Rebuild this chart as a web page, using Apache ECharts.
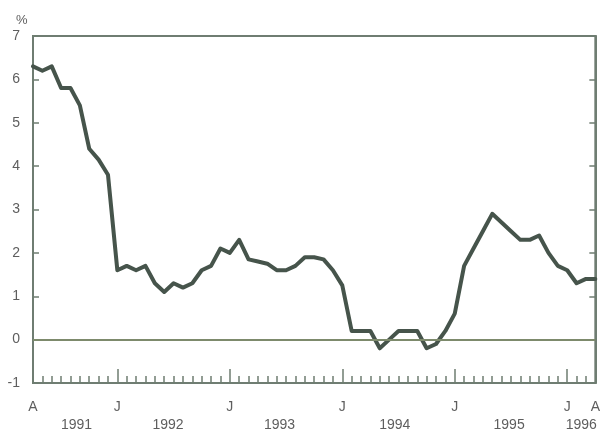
<!DOCTYPE html>
<html>
<head>
<meta charset="utf-8">
<script src="https://cdn.jsdelivr.net/npm/echarts@6/dist/echarts.min.js"></script>
<style>
html,body{margin:0;padding:0;background:#fff;}
#chart{width:603px;height:433px;}
</style>
</head>
<body>
<div id="chart"></div>
<script>
// Monthly series, April 1991 (index 0) to April 1996 (index 60)
const rateValues = [
  6.3, 6.2, 6.3, 5.8, 5.8, 5.4, 4.4, 4.15, 3.8,
  1.6, 1.7, 1.6, 1.7, 1.3, 1.1, 1.3, 1.2, 1.3, 1.6, 1.7, 2.1,
  2.0, 2.3, 1.85, 1.8, 1.75, 1.6, 1.6, 1.7, 1.9, 1.9, 1.85, 1.6,
  1.25, 0.2, 0.2, 0.2, -0.2, 0.0, 0.2, 0.2, 0.2, -0.2, -0.1, 0.2,
  0.6, 1.7, 2.1, 2.5, 2.9, 2.7, 2.5, 2.3, 2.3, 2.4, 2.0, 1.7,
  1.6, 1.3, 1.4, 1.4
];
const monthTickIdx = [0, 9, 21, 33, 45, 57, 60];
const monthTickText = ['A', 'J', 'J', 'J', 'J', 'J', 'A'];
const januaryIdx = [9, 21, 33, 45, 57];
const yearPos = [4.65, 14.4, 26.3, 38.6, 50.8, 58.5];
const yearText = ['1991', '1992', '1993', '1994', '1995', '1996'];
const yTicks = [-1, 0, 1, 2, 3, 4, 5, 6, 7];

const monthIndex = rateValues.map((v, i) => i);
const seriesData = rateValues.map((v, i) => [i, v]);

function nearestLabel(val, pos, text) {
  for (let i = 0; i < pos.length; i++) {
    if (Math.abs(pos[i] - val) < 0.01) return text[i];
  }
  return '';
}

const frame = '#6f7d72';
const labelColor = '#5e5e5e';
const font = 'Liberation Sans, Arial, Helvetica, sans-serif';

const chart = echarts.init(document.getElementById('chart'));
chart.setOption({
  animation: false,
  backgroundColor: '#fff',
  title: {
    text: '%', left: 11, top: 9,
    textStyle: { fontSize: 13, fontWeight: 'normal', color: labelColor, fontFamily: font }
  },
  grid: {
    left: 33, right: 6, top: 36, bottom: 50,
    show: true, borderColor: frame, borderWidth: 2, backgroundColor: 'transparent'
  },
  xAxis: [
    {
      type: 'value', min: 0, max: 60, position: 'bottom',
      axisLine: { show: true, onZero: false, lineStyle: { color: frame, width: 2 } },
      axisTick: { show: true, inside: true, length: 7, customValues: monthIndex,
        lineStyle: { color: frame, width: 1.5 } },
      axisLabel: { show: true, customValues: monthTickIdx, margin: 17,
        color: labelColor, fontSize: 14, fontFamily: font,
        formatter: v => nearestLabel(v, monthTickIdx, monthTickText) },
      splitLine: { show: false }
    },
    {
      type: 'value', min: 0, max: 60, position: 'bottom',
      axisLine: { show: false, onZero: false },
      axisTick: { show: true, inside: true, length: 14, customValues: januaryIdx,
        lineStyle: { color: frame, width: 1.5 } },
      axisLabel: { show: true, customValues: yearPos, margin: 35,
        color: labelColor, fontSize: 14, fontFamily: font,
        formatter: v => nearestLabel(v, yearPos, yearText) },
      splitLine: { show: false }
    }
  ],
  yAxis: [
    {
      type: 'value', min: -1, max: 7, interval: 1, position: 'left',
      axisLine: { show: true, onZero: false, lineStyle: { color: frame, width: 2 } },
      axisTick: { show: true, inside: true, length: 6, lineStyle: { color: frame, width: 1.5 } },
      axisLabel: { margin: 13, color: labelColor, fontSize: 14, fontFamily: font,
        formatter: v => (yTicks.indexOf(v) >= 0 ? String(v) : '') },
      splitLine: { show: false }
    },
    {
      type: 'value', min: -1, max: 7, interval: 1, position: 'right',
      axisLine: { show: true, onZero: false, lineStyle: { color: frame, width: 2 } },
      axisTick: { show: true, inside: true, length: 6, lineStyle: { color: frame, width: 1.5 } },
      axisLabel: { show: false },
      splitLine: { show: false }
    }
  ],
  series: [{
    type: 'line',
    data: seriesData,
    xAxisIndex: 0, yAxisIndex: 0,
    showSymbol: false,
    smooth: false,
    lineStyle: { color: '#46544b', width: 4, join: 'round', cap: 'round' },
    markLine: {
      silent: true, symbol: ['none', 'none'],
      label: { show: false },
      lineStyle: { color: '#7d8a6c', width: 2, type: 'solid' },
      data: [{ yAxis: 0 }]
    },
    z: 3
  }]
});
</script>
</body>
</html>
